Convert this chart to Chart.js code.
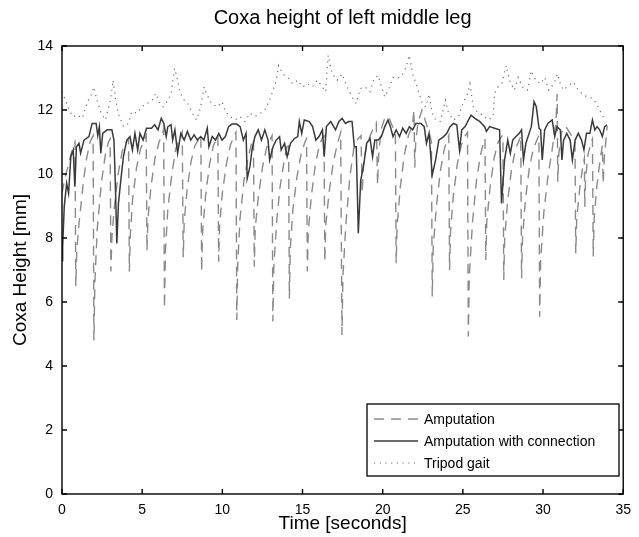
<!DOCTYPE html>
<html>
<head>
<meta charset="utf-8">
<script src="https://cdn.jsdelivr.net/npm/chart.js@4.4.1/dist/chart.umd.min.js"></script>
<style>
  html, body { margin: 0; padding: 0; background: #fff; }
  #wrap { width: 639px; height: 537px; }
</style>
</head>
<body>
<div id="wrap"><canvas id="chart" width="639" height="537"></canvas></div>
<script>
const FONT = '"Liberation Sans", Arial, Helvetica, sans-serif';

const chartTitle = 'Coxa height of left middle leg';
const xTitle = 'Time [seconds]';
const yTitle = 'Coxa Height [mm]';
const seriesNames = ['Amputation', 'Amputation with connection', 'Tripod gait'];
const xTicks = [0, 5, 10, 15, 20, 25, 30, 35];
const yTicks = [0, 2, 4, 6, 8, 10, 12, 14];

// [time s, height mm]
const amputation = [
    [0.00, 9.4], [0.20, 9.9], [0.45, 10.4], [0.65, 10.8], [0.81, 11.0], [0.86, 6.5], [0.92, 7.6], [1.05, 8.4], [1.30, 9.6], [1.50, 10.4], [1.75, 11.0], [1.94, 11.2],
    [1.99, 4.8], [2.05, 6.6], [2.20, 8.3], [2.45, 9.7], [2.70, 10.6], [2.90, 11.0], [3.00, 11.1],
    [3.05, 6.95], [3.11, 8.0], [3.25, 8.9], [3.50, 10.0], [3.75, 10.7], [4.00, 11.0], [4.15, 11.1],
    [4.20, 6.95], [4.26, 8.1], [4.40, 9.2], [4.65, 10.2], [4.90, 10.8], [5.10, 11.0], [5.25, 11.2],
    [5.30, 7.6], [5.36, 8.6], [5.55, 9.6], [5.80, 10.5], [6.05, 11.0], [6.25, 11.2], [6.34, 11.4],
    [6.39, 5.8], [6.45, 7.6], [6.60, 8.9], [6.85, 10.0], [7.10, 10.8], [7.35, 11.1], [7.50, 11.3],
    [7.56, 7.4], [7.62, 8.5], [7.80, 9.5], [8.05, 10.4], [8.30, 10.9], [8.55, 11.1], [8.66, 11.2],
    [8.71, 6.95], [8.77, 8.2], [8.95, 9.3], [9.20, 10.3], [9.45, 10.9], [9.65, 11.1], [9.72, 11.2],
    [9.77, 7.26], [9.83, 8.4], [10.00, 9.4], [10.25, 10.3], [10.50, 10.9], [10.75, 11.2], [10.85, 11.3],
    [10.90, 5.44], [10.96, 7.2], [11.10, 8.6], [11.35, 9.8], [11.60, 10.5], [11.85, 11.0], [11.94, 11.1],
    [11.99, 7.1], [12.05, 8.3], [12.25, 9.3], [12.50, 10.2], [12.75, 10.8], [13.00, 11.1], [13.10, 11.2],
    [13.15, 5.39], [13.21, 7.1], [13.40, 8.6], [13.60, 9.6], [13.85, 10.4], [14.05, 10.9], [14.13, 11.0],
    [14.18, 6.11], [14.24, 7.7], [14.40, 8.9], [14.65, 9.9], [14.90, 10.6], [15.15, 11.0], [15.25, 11.1],
    [15.30, 6.95], [15.36, 8.2], [15.55, 9.3], [15.80, 10.3], [16.05, 10.9], [16.30, 11.2], [16.34, 11.2],
    [16.39, 7.26], [16.45, 8.4], [16.65, 9.4], [16.90, 10.3], [17.15, 10.9], [17.38, 11.3],
    [17.46, 4.97], [17.52, 6.8], [17.70, 8.4], [17.95, 9.9], [18.20, 10.8], [18.45, 11.1], [18.65, 11.2],
    [18.72, 9.4], [18.80, 10.3], [19.00, 10.9], [19.30, 11.3], [19.60, 11.6],
    [19.68, 9.66], [19.75, 10.6], [19.90, 11.4], [20.10, 11.7], [20.35, 11.8], [20.60, 11.5], [20.79, 11.3],
    [20.84, 7.21], [20.90, 8.4], [21.10, 9.6], [21.35, 10.6], [21.60, 11.2], [21.85, 11.5], [21.95, 12.0],
    [22.00, 10.2], [22.06, 11.0], [22.20, 11.6], [22.45, 12.0], [22.70, 11.6], [22.95, 11.2], [23.04, 11.0],
    [23.09, 6.17], [23.15, 7.7], [23.35, 9.0], [23.60, 10.1], [23.85, 10.8], [24.05, 11.1], [24.12, 11.2],
    [24.17, 7.0], [24.23, 8.2], [24.40, 9.3], [24.65, 10.3], [24.90, 10.9], [25.15, 11.2], [25.29, 11.3],
    [25.34, 4.92], [25.40, 6.8], [25.60, 8.5], [25.85, 9.8], [26.10, 10.6], [26.30, 11.0], [26.38, 11.1],
    [26.43, 7.31], [26.49, 8.5], [26.70, 9.6], [26.95, 10.5], [27.20, 11.0], [27.45, 11.2], [27.50, 11.2],
    [27.55, 6.69], [27.61, 8.0], [27.80, 9.2], [28.05, 10.2], [28.30, 10.8], [28.55, 11.1], [28.61, 11.2],
    [28.66, 6.74], [28.72, 8.0], [28.90, 9.2], [29.15, 10.2], [29.40, 10.8], [29.65, 11.1], [29.74, 11.2],
    [29.79, 5.54], [29.85, 7.3], [30.05, 8.8], [30.30, 9.9], [30.55, 10.7], [30.80, 11.6], [30.88, 12.5],
    [30.92, 9.76], [30.98, 10.6], [31.15, 11.3], [31.40, 11.5], [31.65, 11.3], [31.90, 11.1], [31.99, 11.0],
    [32.04, 7.52], [32.10, 8.6], [32.30, 9.6], [32.50, 10.3], [32.58, 10.5],
    [32.60, 8.98], [32.66, 9.9], [32.80, 10.6], [33.00, 11.0], [33.08, 11.1],
    [33.13, 7.42], [33.19, 8.6], [33.35, 9.6], [33.55, 10.4], [33.70, 10.9],
    [33.75, 9.7], [33.82, 10.5], [33.95, 11.2], [34.00, 11.5],
];

const withConnection = [
    [0.00, 7.3], [0.04, 7.73], [0.14, 8.98], [0.29, 9.71], [0.41, 9.40], [0.55, 10.54], [0.70, 10.75], [0.80, 9.60], [0.90, 10.85], [1.06, 10.96],
    [1.16, 10.65], [1.37, 11.06], [1.68, 11.17], [1.88, 11.58], [2.13, 11.58], [2.23, 11.20], [2.33, 11.48], [2.42, 10.65], [2.54, 11.27], [2.81, 11.38],
    [3.11, 11.38], [3.24, 11.06], [3.32, 9.81], [3.42, 7.83], [3.52, 9.08], [3.67, 9.81], [3.83, 10.54], [4.04, 11.06], [4.24, 11.17], [4.39, 10.75],
    [4.55, 11.27], [4.72, 10.75], [4.86, 11.27], [5.06, 11.06], [5.27, 11.43], [5.58, 11.43], [5.78, 11.54], [5.99, 11.38], [6.19, 11.74], [6.35, 11.58],
    [6.50, 11.17], [6.60, 11.48], [6.80, 11.54], [6.90, 11.06], [7.04, 11.38], [7.21, 10.65], [7.41, 11.27], [7.62, 11.06], [7.82, 11.33], [8.03, 11.06],
    [8.24, 11.22], [8.44, 11.06], [8.65, 11.17], [8.85, 11.06], [9.06, 11.43], [9.16, 10.85], [9.37, 11.17], [9.57, 11.06], [9.78, 11.27], [9.98, 11.06],
    [10.19, 11.17], [10.39, 11.48], [10.60, 11.56], [10.90, 11.56], [11.11, 11.48], [11.31, 11.06], [11.48, 11.27], [11.55, 9.86], [11.72, 10.23], [11.85, 10.75],
    [12.03, 11.17], [12.24, 11.38], [12.44, 11.06], [12.65, 11.38], [12.85, 11.06], [12.95, 10.44], [13.16, 10.85], [13.36, 11.06], [13.57, 11.17], [13.67, 10.75],
    [13.88, 10.96], [14.04, 10.54], [14.25, 10.96], [14.50, 11.11], [14.70, 11.17], [14.80, 11.64], [14.95, 11.27], [15.11, 11.69], [15.42, 11.64], [15.63, 11.48],
    [15.83, 11.06], [16.03, 11.17], [16.24, 11.38], [16.35, 10.54], [16.49, 11.48], [16.76, 11.64], [17.06, 11.38], [17.27, 11.64], [17.47, 11.74], [17.68, 11.58],
    [17.88, 11.64], [18.09, 11.64], [18.23, 10.85], [18.35, 10.85], [18.48, 8.15], [18.63, 9.81], [18.80, 10.23], [19.00, 10.96], [19.21, 11.11], [19.37, 10.54],
    [19.51, 11.06], [19.72, 11.06], [19.92, 11.17], [20.13, 11.48], [20.33, 11.69], [20.48, 11.48], [20.64, 11.17], [20.84, 11.38], [21.05, 11.17], [21.25, 11.43],
    [21.46, 11.27], [21.66, 11.48], [21.87, 11.38], [22.07, 11.58], [22.38, 11.58], [22.59, 11.48], [22.73, 10.96], [22.89, 11.27], [23.09, 9.97], [23.30, 10.44],
    [23.50, 11.06], [23.80, 11.17], [24.00, 11.27], [24.20, 11.48], [24.41, 11.58], [24.62, 11.54], [24.79, 10.75], [24.93, 11.38], [25.14, 11.48], [25.51, 11.84],
    [25.75, 11.74], [26.06, 11.64], [26.36, 11.48], [26.47, 11.33], [26.67, 11.48], [26.98, 11.43], [27.29, 11.38], [27.41, 9.08], [27.60, 10.44], [27.80, 11.06],
    [27.96, 10.65], [28.11, 11.06], [28.31, 11.17], [28.52, 11.27], [28.66, 11.38], [28.78, 10.44], [28.93, 10.96], [29.13, 11.27], [29.27, 11.48], [29.44, 12.26],
    [29.58, 12.10], [29.75, 11.43], [29.85, 11.38], [29.95, 10.44], [30.10, 11.38], [30.30, 11.58], [30.57, 11.69], [30.73, 11.17], [30.87, 11.48], [31.08, 11.38],
    [31.18, 10.44], [31.28, 11.06], [31.48, 11.27], [31.69, 11.06], [31.83, 10.44], [32.00, 11.06], [32.20, 11.27], [32.40, 11.06], [32.55, 10.75], [32.71, 11.27],
    [32.92, 11.27], [33.08, 11.69], [33.23, 11.38], [33.37, 11.48], [33.53, 11.38], [33.70, 11.17], [33.84, 11.48], [33.99, 11.54],
];

const tripodGait = [
    [0.00, 12.57], [0.25, 12.26], [0.45, 12.00], [0.66, 11.79], [0.96, 11.84], [1.27, 11.74], [1.58, 12.26], [1.78, 12.41], [1.99, 12.72], [2.15, 12.36],
    [2.40, 11.95], [2.71, 11.69], [3.02, 12.31], [3.19, 12.93], [3.33, 12.36], [3.54, 11.84], [3.84, 11.48], [4.15, 11.58], [4.35, 11.95], [4.66, 11.90],
    [4.97, 12.10], [5.27, 12.20], [5.58, 12.26], [5.85, 12.52], [6.05, 12.26], [6.30, 12.10], [6.61, 12.31], [6.81, 12.52], [7.02, 13.30], [7.16, 13.05],
    [7.32, 12.62], [7.53, 12.36], [7.84, 12.20], [8.14, 11.90], [8.39, 11.69], [8.65, 12.10], [8.86, 12.72], [9.06, 12.46], [9.33, 12.20], [9.68, 12.10],
    [9.98, 12.26], [10.19, 11.95], [10.50, 11.79], [10.80, 11.69], [11.11, 11.79], [11.42, 11.64], [11.72, 11.90], [12.00, 11.80], [12.23, 11.84], [12.65, 12.00],
    [12.95, 12.31], [13.16, 12.62], [13.36, 12.93], [13.51, 13.39], [13.77, 13.13], [14.08, 13.02], [14.39, 12.82], [14.70, 12.93], [15.00, 12.72], [15.31, 12.82],
    [15.62, 12.72], [15.93, 12.93], [16.24, 12.72], [16.44, 12.57], [16.60, 13.71], [16.85, 13.13], [17.16, 12.93], [17.47, 13.13], [17.78, 12.72], [18.09, 12.41],
    [18.35, 12.20], [18.60, 12.67], [18.90, 12.72], [19.21, 12.57], [19.46, 12.98], [19.72, 13.08], [19.92, 12.72], [20.13, 12.41], [20.43, 12.72], [20.64, 13.02],
    [20.94, 12.98], [21.25, 13.13], [21.46, 13.34], [21.66, 13.71], [21.87, 13.13], [22.07, 12.82], [22.28, 12.50], [22.48, 12.20], [22.69, 12.10], [22.89, 12.50],
    [23.09, 11.90], [23.30, 11.69], [23.60, 11.64], [23.91, 12.31], [24.11, 11.90], [24.42, 11.69], [24.73, 11.79], [25.04, 12.26], [25.30, 12.52], [25.44, 12.82],
    [25.65, 12.10], [25.95, 11.90], [26.26, 11.84], [26.57, 11.69], [26.88, 11.79], [26.98, 12.52], [27.19, 12.72], [27.43, 12.82], [27.70, 13.39], [27.90, 12.93],
    [28.21, 12.62], [28.45, 13.02], [28.72, 12.72], [29.03, 12.62], [29.27, 13.23], [29.54, 12.93], [29.85, 12.82], [30.10, 13.02], [30.36, 12.62], [30.67, 12.82],
    [30.91, 13.13], [31.08, 12.82], [31.28, 12.62], [31.59, 12.77], [31.90, 12.87], [32.20, 12.62], [32.51, 12.46], [32.82, 12.41], [33.12, 12.36], [33.33, 12.20],
    [33.53, 12.00], [33.74, 11.79], [33.90, 11.69],
];

const toPoints = arr => arr.map(([x, y]) => ({ x, y }));

// MATLAB-style frame: box, inward ticks on all sides, title and a boxed legend in the corner
const matlabFrame = {
    id: 'matlabFrame',
    afterDatasetsDraw(chart) {
        const { ctx, chartArea: a, scales: { x, y } } = chart;
        ctx.save();
        ctx.strokeStyle = '#000';
        ctx.lineWidth = 1.4;
        ctx.setLineDash([]);
        ctx.strokeRect(a.left, a.top, a.right - a.left, a.bottom - a.top);
        ctx.beginPath();
        xTicks.forEach(v => {
            const px = x.getPixelForValue(v);
            ctx.moveTo(px, a.bottom); ctx.lineTo(px, a.bottom - 5);
            ctx.moveTo(px, a.top); ctx.lineTo(px, a.top + 5);
        });
        yTicks.forEach(v => {
            const py = y.getPixelForValue(v);
            ctx.moveTo(a.left, py); ctx.lineTo(a.left + 5, py);
            ctx.moveTo(a.right, py); ctx.lineTo(a.right - 5, py);
        });
        ctx.stroke();

        ctx.fillStyle = '#000';
        ctx.font = `20px ${FONT}`;
        ctx.textAlign = 'center';
        ctx.textBaseline = 'middle';
        ctx.fillText(chartTitle, (a.left + a.right) / 2, 18);

        // legend
        const lx = 367, ly = 404, lw = 252, lh = 72;
        ctx.fillStyle = '#fff';
        ctx.fillRect(lx, ly, lw, lh);
        ctx.lineWidth = 1.3;
        ctx.strokeRect(lx, ly, lw, lh);
        ctx.font = `14px ${FONT}`;
        ctx.textAlign = 'left';
        chart.data.datasets.forEach((ds, i) => {
            const ry = ly + 15 + i * 22;
            ctx.beginPath();
            ctx.strokeStyle = ds.borderColor;
            ctx.lineWidth = ds.borderWidth;
            ctx.setLineDash(ds.borderDash || []);
            ctx.moveTo(lx + 7, ry);
            ctx.lineTo(lx + 51, ry);
            ctx.stroke();
            ctx.setLineDash([]);
            ctx.fillStyle = '#000';
            ctx.fillText(ds.label, lx + 57, ry + 1);
        });
        ctx.restore();
    },
};

new Chart(document.getElementById('chart'), {
    type: 'line',
    data: {
        datasets: [
            {
                label: seriesNames[0],
                data: toPoints(amputation),
                borderColor: '#8a8a8a',
                borderWidth: 1.4,
                borderDash: [10, 7],
                order: 2,
            },
            {
                label: seriesNames[1],
                data: toPoints(withConnection),
                borderColor: '#3a3a3a',
                borderWidth: 1.5,
                order: 0,
            },
            {
                label: seriesNames[2],
                data: toPoints(tripodGait),
                borderColor: '#6e6e6e',
                borderWidth: 1.2,
                borderDash: [1.2, 4.5],
                order: 1,
            },
        ],
    },
    options: {
        responsive: false,
        animation: false,
        elements: { point: { radius: 0 }, line: { tension: 0, fill: false } },
        layout: { padding: { top: 46, right: 9, left: 0, bottom: 0 } },
        plugins: {
            legend: { display: false },
            tooltip: { enabled: false },
            title: { display: false },
        },
        scales: {
            x: {
                type: 'linear',
                min: 0,
                max: 35,
                afterBuildTicks: s => { s.ticks = xTicks.map(value => ({ value })); },
                afterFit: s => { s.height = 43; },
                grid: { display: false, drawTicks: false },
                border: { display: false },
                ticks: { color: '#000', font: { family: FONT, size: 14 }, padding: 8, maxRotation: 0, autoSkip: false },
                title: { display: true, text: xTitle, color: '#000', font: { family: FONT, size: 19 }, padding: { top: 0, bottom: 2 } },
            },
            y: {
                type: 'linear',
                min: 0,
                max: 14,
                afterBuildTicks: s => { s.ticks = yTicks.map(value => ({ value })); },
                afterFit: s => { s.width = 62; },
                grid: { display: false, drawTicks: false },
                border: { display: false },
                ticks: { color: '#000', font: { family: FONT, size: 14 }, padding: 9, autoSkip: false },
                title: { display: true, text: yTitle, color: '#000', font: { family: FONT, size: 19 }, padding: { top: 9, bottom: 0 } },
            },
        },
    },
    plugins: [matlabFrame],
});
</script>
</body>
</html>
